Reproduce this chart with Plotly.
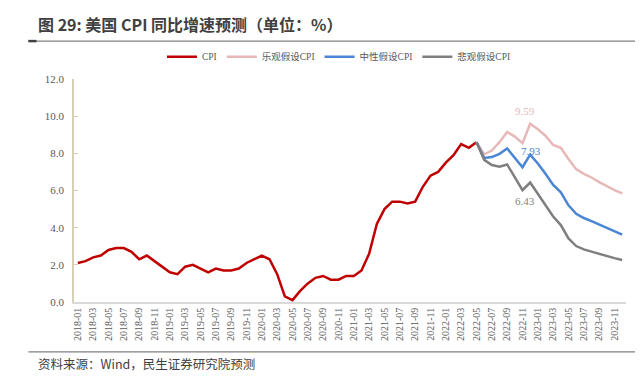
import plotly.graph_objects as go

# ---------------- data ----------------
months = [f"{y}-{m:02d}" for y in range(2018, 2024) for m in range(1, 13)]

cpi_months = months[:53]  # 2018-01 .. 2022-05
cpi = [2.1, 2.2, 2.4, 2.5, 2.8, 2.9, 2.9, 2.7, 2.3, 2.5, 2.2, 1.9,
       1.6, 1.5, 1.9, 2.0, 1.8, 1.6, 1.8, 1.7, 1.7, 1.8, 2.1, 2.3,
       2.5, 2.3, 1.5, 0.3, 0.1, 0.6, 1.0, 1.3, 1.4, 1.2, 1.2, 1.4,
       1.4, 1.7, 2.6, 4.2, 5.0, 5.4, 5.4, 5.3, 5.4, 6.2, 6.8, 7.0,
       7.5, 7.9, 8.5, 8.3, 8.6]

fc_months = months[52:]  # 2022-05 .. 2023-12
optimistic = [8.6, 7.95, 8.15, 8.6, 9.15, 8.9, 8.55, 9.59, 9.3, 8.95,
              8.45, 8.3, 7.7, 7.15, 6.9, 6.7, 6.45, 6.22, 6.02, 5.84]
neutral = [8.6, 7.75, 7.8, 7.97, 8.26, 7.75, 7.25, 7.93, 7.45, 6.9,
           6.3, 5.9, 5.2, 4.75, 4.52, 4.35, 4.17, 3.98, 3.8, 3.62]
pessimistic = [8.6, 7.65, 7.37, 7.28, 7.4, 6.74, 6.02, 6.43, 5.82, 5.2,
               4.6, 4.14, 3.42, 3.01, 2.83, 2.71, 2.58, 2.47, 2.36, 2.26]

tick_labels = months[::2]
y_ticks = [0, 2, 4, 6, 8, 10, 12]

names = ["CPI", "乐观假设CPI", "中性假设CPI", "悲观假设CPI"]
colors = ["#c00000", "#e6b9b8", "#4a86d4", "#7f7f7f"]

# ---------------- figure ----------------
serif = "Liberation Serif, Noto Sans CJK SC, serif"
fig = go.Figure()
series = [(cpi_months, cpi), (fc_months, optimistic), (fc_months, neutral), (fc_months, pessimistic)]
for (xs, ys), name, c in zip(series, names, colors):
    fig.add_trace(go.Scatter(x=xs, y=ys, mode="lines", name=name,
                             line=dict(color=c, width=2.5)))

peak_month = "2022-12"
i = fc_months.index(peak_month)
fig.add_annotation(x=peak_month, y=optimistic[i], text=f"{optimistic[i]:.2f}", showarrow=False,
                   yshift=13, xshift=-5, font=dict(family=serif, size=11, color=colors[1]))
fig.add_annotation(x=peak_month, y=neutral[i], text=f"{neutral[i]:.2f}", showarrow=False,
                   yshift=4, xshift=1, font=dict(family=serif, size=11, color=colors[2]))
fig.add_annotation(x=peak_month, y=pessimistic[i], text=f"{pessimistic[i]:.2f}", showarrow=False,
                   yshift=-18, xshift=-5, font=dict(family=serif, size=11, color=colors[3]))

# title & footer (page body has an 8px margin; figure is sized to fit the window)
fig.add_annotation(xref="paper", yref="paper", x=-0.068, y=1.245, xanchor="left", yanchor="middle",
                   text="<b>图 29: 美国 CPI 同比增速预测（单位：%）</b>", showarrow=False,
                   font=dict(family="Noto Sans CJK SC", size=16, color="#404040"))
fig.add_annotation(xref="paper", yref="paper", x=-0.068, y=-0.274, xanchor="left", yanchor="middle",
                   text="资料来源：Wind，民生证券研究院预测", showarrow=False,
                   font=dict(family="Noto Sans CJK SC", size=12.5, color="#404040"))
fig.add_shape(type="line", xref="paper", yref="paper", x0=-0.0827, x1=1.046, y0=1.170, y1=1.170,
              line=dict(color="#808080", width=1.2))
fig.add_shape(type="line", xref="paper", yref="paper", x0=-0.0827, x1=-0.068, y0=1.170, y1=1.170,
              line=dict(color="#404040", width=2.5))
fig.add_shape(type="line", xref="paper", yref="paper", x0=-0.0827, x1=1.046, y0=-0.224, y1=-0.224,
              line=dict(color="#808080", width=1.2))

fig.update_layout(
    width=635, height=368,
    margin=dict(l=66, r=17, t=71, b=74),
    paper_bgcolor="white", plot_bgcolor="white",
    showlegend=True,
    legend=dict(orientation="h", x=0.48, xanchor="center", y=1.10, yanchor="middle",
                font=dict(family=serif, size=9.5, color="#595959"),
                itemwidth=30, bgcolor="rgba(0,0,0,0)"),
    xaxis=dict(type="category", categoryorder="array", categoryarray=months,
               range=[-0.5, len(months) - 0.5],
               tickmode="array", tickvals=tick_labels, ticktext=tick_labels,
               tickangle=-90, ticks="", showgrid=False,
               showline=True, linecolor="#d9d9d9", linewidth=1.5,
               tickfont=dict(family=serif, size=10, color="#595959")),
    yaxis=dict(range=[0, 12], tickmode="array", tickvals=y_ticks,
               tickformat=".1f", showgrid=False, zeroline=False,
               showline=True, linecolor="#d8d0b5", linewidth=1.5,
               ticks="inside", ticklen=4, tickcolor="#d8d0b5",
               ticklabelstandoff=6,
               tickfont=dict(family=serif, size=11, color="#595959")),
)

fig.write_html("out.html")
